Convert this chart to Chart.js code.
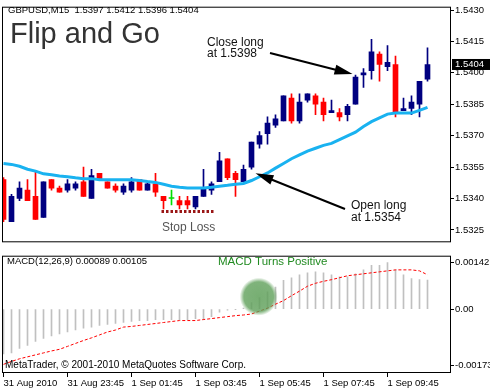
<!DOCTYPE html>
<html>
<head>
<meta charset="utf-8">
<script src="https://cdn.jsdelivr.net/npm/chart.js@4.4.0/dist/chart.umd.min.js"></script>
<style>
html, body { margin: 0; padding: 0; background: #fff; }
#wrap { position: relative; width: 490px; height: 390px; overflow: hidden; }
#main { position: absolute; left: 0; top: 0; }
#macd { position: absolute; left: 0; top: 249px; }
</style>
</head>
<body>
<div id="wrap">
  <canvas id="main" width="490" height="249"></canvas>
  <canvas id="macd" width="490" height="141"></canvas>
</div>
<script>
const symbol = 'GBPUSD,M15';
const opens = [1.5349, 1.5329, 1.5340, 1.5344, 1.5341, 1.5331, 1.5349, 1.5345, 1.5344, 1.5345,
  1.5348, 1.5340, 1.5352, 1.5348, 1.5346, 1.5343, 1.5344, 1.5349, 1.5344, 1.5347,
  1.5341, 1.5340, 1.5339, 1.5339, 1.5336, 1.5341, 1.5344, 1.5348, 1.5359, 1.5352,
  1.5348, 1.5355, 1.5366, 1.5371, 1.5375, 1.5377, 1.5388, 1.5377, 1.5387, 1.5389,
  1.5386, 1.5381, 1.5381, 1.5380, 1.5385, 1.5399, 1.5401, 1.5409, 1.5403, 1.5404,
  1.5382, 1.5383, 1.5385, 1.5397];
const highs = [1.5350, 1.5342, 1.5348, 1.5349, 1.5353, 1.5348, 1.5349, 1.5346, 1.5349, 1.5348,
  1.5355, 1.5354, 1.5352, 1.5348, 1.5347, 1.5347, 1.5350, 1.5349, 1.5348, 1.5352,
  1.5341, 1.5344, 1.5341, 1.5341, 1.5341, 1.5354, 1.5348, 1.5362, 1.5359, 1.5353,
  1.5356, 1.5367, 1.5372, 1.5379, 1.5380, 1.5389, 1.5390, 1.5390, 1.5390, 1.5390,
  1.5388, 1.5387, 1.5383, 1.5385, 1.5399, 1.5402, 1.5416, 1.5410, 1.5413, 1.5408,
  1.5388, 1.5389, 1.5396, 1.5412];
const lows = [1.5329, 1.5329, 1.5339, 1.5339, 1.5330, 1.5331, 1.5344, 1.5343, 1.5343, 1.5344,
  1.5341, 1.5340, 1.5349, 1.5345, 1.5343, 1.5342, 1.5343, 1.5344, 1.5344, 1.5341,
  1.5335, 1.5337, 1.5335, 1.5335, 1.5335, 1.5341, 1.5342, 1.5348, 1.5349, 1.5341,
  1.5348, 1.5354, 1.5364, 1.5366, 1.5374, 1.5377, 1.5376, 1.5376, 1.5386, 1.5380,
  1.5377, 1.5381, 1.5377, 1.5377, 1.5385, 1.5393, 1.5397, 1.5396, 1.5401, 1.5379,
  1.5382, 1.5380, 1.5379, 1.5396];
const closes = [1.5330, 1.5341, 1.5345, 1.5339, 1.5330, 1.5348, 1.5345, 1.5343, 1.5347, 1.5347,
  1.5341, 1.5351, 1.5349, 1.5345, 1.5344, 1.5346, 1.5348, 1.5344, 1.5347, 1.5343,
  1.5339, 1.5340, 1.5337, 1.5337, 1.5341, 1.5345, 1.5347, 1.5358, 1.5350, 1.5349,
  1.5354, 1.5367, 1.5370, 1.5376, 1.5378, 1.5389, 1.5377, 1.5386, 1.5390, 1.5385,
  1.5380, 1.5382, 1.5379, 1.5384, 1.5398, 1.5400, 1.5410, 1.5404, 1.5405, 1.5381,
  1.5383, 1.5386, 1.5396, 1.5404];
const maValues = [1.53567, 1.53563, 1.53554, 1.53540, 1.53531, 1.53518, 1.53513, 1.53508, 1.53504, 1.53499,
  1.53495, 1.53495, 1.53490, 1.53490, 1.53490, 1.53490, 1.53490, 1.53486, 1.53481, 1.53477,
  1.53468, 1.53459, 1.53454, 1.53450, 1.53450, 1.53450, 1.53454, 1.53459, 1.53463, 1.53468,
  1.53472, 1.53486, 1.53504, 1.53522, 1.53545, 1.53567, 1.53590, 1.53608, 1.53626, 1.53640,
  1.53654, 1.53663, 1.53681, 1.53699, 1.53717, 1.53744, 1.53767, 1.53785, 1.53803, 1.53808,
  1.53808, 1.53808, 1.53821, 1.53835];
const macdHist = [-0.00137, -0.00134, -0.00120, -0.00111, -0.00099, -0.00090, -0.00082, -0.00076, -0.00070, -0.00064,
  -0.00058, -0.00055, -0.00050, -0.00047, -0.00044, -0.00041, -0.00038, -0.00035, -0.00035, -0.00032,
  -0.00032, -0.00032, -0.00032, -0.00032, -0.00029, -0.00032, -0.00023, -0.00009, -0.00003, -0.00001,
  0.00003, 0.00020, 0.00035, 0.00053, 0.00067, 0.00088, 0.00096, 0.00105, 0.00111, 0.00114,
  0.00111, 0.00105, 0.00099, 0.00099, 0.00108, 0.00120, 0.00134, 0.00134, 0.00142, 0.00120,
  0.00105, 0.00093, 0.00090, 0.00089];
const macdSignal = [-0.00169, -0.00160, -0.00152, -0.00146, -0.00140, -0.00134, -0.00128, -0.00123, -0.00114, -0.00105,
  -0.00096, -0.00088, -0.00079, -0.00070, -0.00064, -0.00055, -0.00053, -0.00050, -0.00047, -0.00044,
  -0.00041, -0.00038, -0.00035, -0.00035, -0.00035, -0.00032, -0.00029, -0.00026, -0.00023, -0.00020,
  -0.00018, -0.00015, -0.00006, 0.00003, 0.00015, 0.00026, 0.00041, 0.00055, 0.00070, 0.00079,
  0.00085, 0.00090, 0.00096, 0.00102, 0.00105, 0.00108, 0.00111, 0.00114, 0.00117, 0.00120,
  0.00120, 0.00120, 0.00117, 0.00105];
const priceTicks = [1.5325, 1.5340, 1.5355, 1.5370, 1.5385, 1.5400, 1.5415, 1.5430];
const macdTicks = [-0.00173, 0, 0.00142];
const timeLabels = ['31 Aug 2010', '31 Aug 23:45', '1 Sep 01:45', '1 Sep 03:45', '1 Sep 05:45', '1 Sep 07:45', '1 Sep 09:45'];
const labelEvery = 8;

// annotations, anchored on bar index / price
const openLong = { bar: 31, price: 1.5354 };
const closeLong = { bar: 44, price: 1.5398 };
const stopLoss = { from: 20, to: 26, price: 1.5334 };
const macdCross = { bar: 31.9, value: 0.00038 };

const last = closes.length - 1;
const barColors = opens.map((o, i) => closes[i] > o ? '#000080' : closes[i] < o ? '#ff0000' : '#00dd00');
const font = 'Liberation Sans, Arial, sans-serif';
const xMin = -0.1875, xMax = 55.9375;

function drawArrow(ctx, x1, y1, x2, y2) {
  const a = Math.atan2(y2 - y1, x2 - x1);
  const len = 18, hw = 5;
  ctx.save();
  ctx.strokeStyle = '#000';
  ctx.fillStyle = '#000';
  ctx.lineWidth = 2;
  ctx.beginPath();
  ctx.moveTo(x1, y1);
  ctx.lineTo(x2 - Math.cos(a) * len * 0.8, y2 - Math.sin(a) * len * 0.8);
  ctx.stroke();
  ctx.beginPath();
  ctx.moveTo(x2, y2);
  ctx.lineTo(x2 - Math.cos(a) * len - Math.sin(a) * hw, y2 - Math.sin(a) * len + Math.cos(a) * hw);
  ctx.lineTo(x2 - Math.cos(a) * len + Math.sin(a) * hw, y2 - Math.sin(a) * len - Math.cos(a) * hw);
  ctx.closePath();
  ctx.fill();
  ctx.restore();
}

const framePlugin = {
  id: 'frame',
  afterDraw(chart) {
    const { ctx, chartArea: a } = chart;
    ctx.save();
    ctx.strokeStyle = '#000';
    ctx.lineWidth = 1;
    ctx.strokeRect(a.left + 0.5, a.top + 0.5, a.right - a.left - 1, a.bottom - a.top - 1);
    ctx.restore();
  }
};

const mainNotes = {
  id: 'mainNotes',
  afterDraw(chart) {
    const { ctx } = chart;
    const x = chart.scales.x, y = chart.scales.y;
    ctx.save();
    ctx.fillStyle = '#000';
    ctx.font = '9.5px ' + font;
    ctx.textBaseline = 'alphabetic';
    const f = v => v.toFixed(4);
    ctx.fillText(symbol + '  ' + f(opens[last]) + ' ' + f(highs[last]) + ' ' + f(lows[last]) + ' ' + f(closes[last]), 8, 13);

    ctx.fillStyle = '#333';
    ctx.font = '29px ' + font;
    ctx.fillText('Flip and Go', 10, 43);

    ctx.fillStyle = '#111';
    ctx.font = '12px ' + font;
    ctx.fillText('Close long', 207, 46);
    ctx.fillText('at ' + closeLong.price.toFixed(4), 207, 57);
    ctx.fillText('Open long', 351, 209);
    ctx.fillText('at ' + openLong.price.toFixed(4), 351, 221);
    ctx.fillStyle = '#555';
    ctx.fillText('Stop Loss', 162, 231);

    drawArrow(ctx, 270, 53, x.getPixelForValue(closeLong.bar) - 3, y.getPixelForValue(closeLong.price) - 3);
    drawArrow(ctx, 345, 209, x.getPixelForValue(openLong.bar) + 4, y.getPixelForValue(openLong.price) + 4);

    // stop loss dotted line
    ctx.strokeStyle = '#9a1616';
    ctx.lineWidth = 3;
    ctx.setLineDash([2.5, 2]);
    const sy = Math.round(y.getPixelForValue(stopLoss.price)) + 0.5;
    ctx.beginPath();
    ctx.moveTo(x.getPixelForValue(stopLoss.from) - 2, sy);
    ctx.lineTo(x.getPixelForValue(stopLoss.to) + 2, sy);
    ctx.stroke();
    ctx.setLineDash([]);

    // current price box
    const py = y.getPixelForValue(closes[last]);
    ctx.fillStyle = '#000';
    ctx.fillRect(452, py - 5.5, 38, 11);
    ctx.fillStyle = '#fff';
    ctx.font = '9.5px ' + font;
    ctx.textBaseline = 'middle';
    ctx.fillText(closes[last].toFixed(4), 455, py);
    ctx.restore();
  }
};

const macdNotes = {
  id: 'macdNotes',
  afterDatasetsDraw(chart) {
    const { ctx } = chart;
    const x = chart.scales.x, y = chart.scales.y;
    const cx = x.getPixelForValue(macdCross.bar), cy = y.getPixelForValue(macdCross.value);
    const g = ctx.createRadialGradient(cx, cy, 0, cx, cy, 19);
    g.addColorStop(0, 'rgba(95,160,90,0.85)');
    g.addColorStop(0.78, 'rgba(95,160,90,0.8)');
    g.addColorStop(1, 'rgba(95,160,90,0)');
    ctx.save();
    ctx.fillStyle = g;
    ctx.beginPath();
    ctx.arc(cx, cy, 19, 0, Math.PI * 2);
    ctx.fill();
    ctx.restore();
  },
  afterDraw(chart) {
    const { ctx } = chart;
    ctx.save();
    ctx.fillStyle = '#000';
    ctx.font = '9.5px ' + font;
    ctx.fillText('MACD(12,26,9) ' + macdHist[last].toFixed(5) + ' ' + macdSignal[last].toFixed(5), 7, 15);
    ctx.font = '10px ' + font;
    ctx.fillText('MetaTrader, \u00a9 2001-2010 MetaQuotes Software Corp.', 5, 119);
    ctx.fillStyle = '#228b22';
    ctx.font = '11.5px ' + font;
    ctx.fillText('MACD Turns Positive', 218, 16);
    ctx.restore();
  }
};

const baseOptions = {
  responsive: false,
  animation: false,
  events: [],
  plugins: { legend: { display: false }, tooltip: { enabled: false } }
};

new Chart(document.getElementById('main'), {
  data: {
    datasets: [
      {
        type: 'line',
        data: maValues.map((v, i) => ({ x: i, y: v })),
        borderColor: '#19b2f0',
        borderWidth: 3,
        pointRadius: 0,
        order: 0
      },
      {
        type: 'bar',
        data: opens.map((o, i) => ({ x: i, y: [o, closes[i]] })),
        backgroundColor: barColors,
        barThickness: 5,
        minBarLength: 1,
        grouped: false,
        order: 1
      },
      {
        type: 'bar',
        data: lows.map((l, i) => ({ x: i, y: [l, highs[i]] })),
        backgroundColor: barColors,
        barThickness: 1,
        grouped: false,
        order: 2
      }
    ]
  },
  options: {
    ...baseOptions,
    layout: { padding: { left: 2, top: 1, right: 0, bottom: 0 } },
    scales: {
      x: { type: 'linear', min: xMin, max: xMax, offset: false, display: false },
      y: {
        type: 'linear',
        position: 'right',
        min: 1.53191,
        max: 1.543159,
        afterFit: s => { s.width = 39; },
        afterBuildTicks: s => { s.ticks = priceTicks.map(v => ({ value: v })); },
        grid: { drawOnChartArea: false, drawTicks: true, tickLength: 3, color: '#000' },
        border: { display: false },
        ticks: { padding: 1, color: '#000', font: { family: font, size: 9.5 }, callback: v => v.toFixed(4) }
      }
    }
  },
  plugins: [framePlugin, mainNotes]
});

new Chart(document.getElementById('macd'), {
  data: {
    datasets: [
      {
        type: 'line',
        data: macdSignal.map((v, i) => ({ x: i, y: v })),
        borderColor: '#ff0000',
        borderWidth: 1,
        borderDash: [3, 2],
        pointRadius: 0,
        order: 0
      },
      {
        type: 'bar',
        data: macdHist.map((v, i) => ({ x: i, y: v })),
        backgroundColor: '#c0c0c0',
        barThickness: 1,
        grouped: false,
        order: 1
      }
    ]
  },
  options: {
    ...baseOptions,
    layout: { padding: { left: 2, top: 1, right: 0, bottom: 0 } },
    scales: {
      x: {
        type: 'linear',
        min: xMin,
        max: xMax,
        offset: false,
        position: 'bottom',
        afterFit: s => { s.height = 17; },
        afterBuildTicks: s => { s.ticks = timeLabels.map((t, k) => ({ value: k * labelEvery })); },
        grid: { offset: false, drawOnChartArea: false, drawTicks: true, tickLength: 4, color: '#000' },
        border: { display: false },
        ticks: {
          align: 'start', maxRotation: 0, autoSkip: false, padding: 1, color: '#000',
          font: { family: font, size: 9.5 },
          callback: (v, k) => timeLabels[k]
        }
      },
      y: {
        type: 'linear',
        position: 'right',
        min: -0.0019544,
        max: 0.0016335,
        afterFit: s => { s.width = 39; },
        afterBuildTicks: s => { s.ticks = macdTicks.map(v => ({ value: v })); },
        grid: { drawOnChartArea: false, drawTicks: true, tickLength: 3, color: '#000' },
        border: { display: false },
        ticks: { padding: 1, color: '#000', font: { family: font, size: 9.5 }, callback: v => v === 0 ? '0.00' : v.toFixed(5) }
      }
    }
  },
  plugins: [framePlugin, macdNotes]
});
</script>
</body>
</html>
